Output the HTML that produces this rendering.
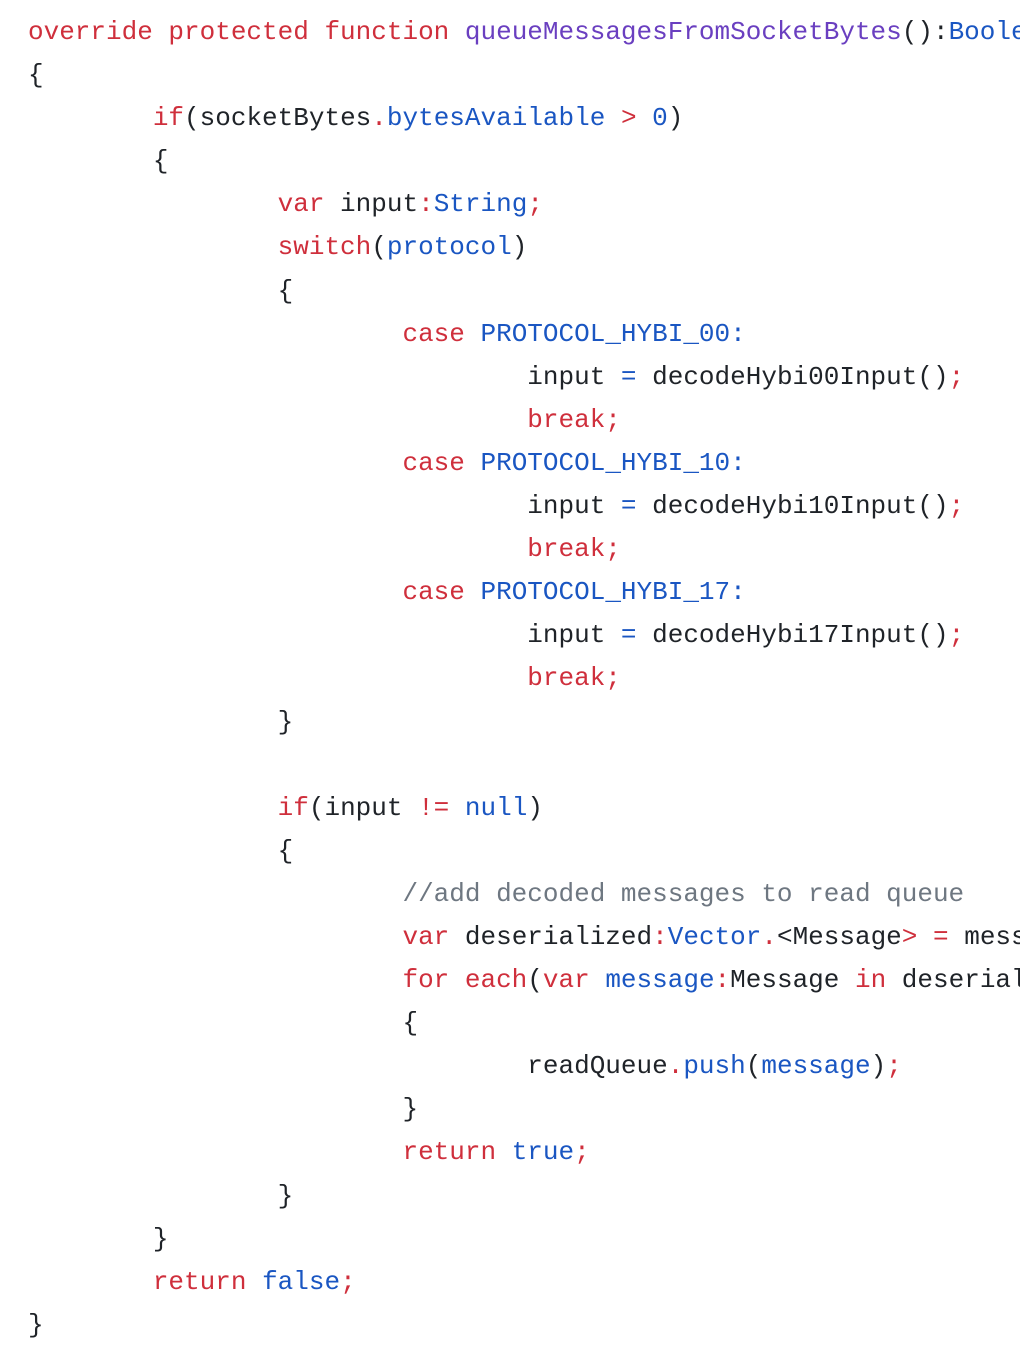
<!DOCTYPE html>
<html><head><meta charset="utf-8"><style>
html,body{margin:0;padding:0;background:#fff;width:1020px;height:1360px;overflow:hidden}
pre{margin:0;padding:11px 0 0 28px;font-family:"Liberation Mono",monospace;font-size:26px;line-height:43.1px;color:#1f2328;white-space:pre;overflow:hidden;width:992px}
.k{color:#cf2f3c}.b{color:#1a56c2}.p{color:#6a3fc0}.c{color:#6e7781}
</style></head><body><pre><span class="k">override protected function</span> <span class="p">queueMessagesFromSocketBytes</span>():<span class="b">Boolean</span>
{
        <span class="k">if</span>(socketBytes<span class="k">.</span><span class="b">bytesAvailable</span> <span class="k">&gt;</span> <span class="b">0</span>)
        {
                <span class="k">var</span> input<span class="k">:</span><span class="b">String</span><span class="k">;</span>
                <span class="k">switch</span>(<span class="b">protocol</span>)
                {
                        <span class="k">case</span> <span class="b">PROTOCOL_HYBI_00:</span>
                                input <span class="b">=</span> decodeHybi00Input()<span class="k">;</span>
                                <span class="k">break;</span>
                        <span class="k">case</span> <span class="b">PROTOCOL_HYBI_10:</span>
                                input <span class="b">=</span> decodeHybi10Input()<span class="k">;</span>
                                <span class="k">break;</span>
                        <span class="k">case</span> <span class="b">PROTOCOL_HYBI_17:</span>
                                input <span class="b">=</span> decodeHybi17Input()<span class="k">;</span>
                                <span class="k">break;</span>
                }

                <span class="k">if</span>(input <span class="k">!=</span> <span class="b">null</span>)
                {
                        <span class="c">//add decoded messages to read queue</span>
                        <span class="k">var</span> deserialized<span class="k">:</span><span class="b">Vector</span><span class="k">.</span>&lt;Message<span class="k">&gt;</span> <span class="k">=</span> messages
                        <span class="k">for each</span>(<span class="k">var</span> <span class="b">message</span><span class="k">:</span>Message <span class="k">in</span> deserialized
                        {
                                readQueue<span class="k">.</span><span class="b">push</span>(<span class="b">message</span>)<span class="k">;</span>
                        }
                        <span class="k">return</span> <span class="b">true</span><span class="k">;</span>
                }
        }
        <span class="k">return</span> <span class="b">false</span><span class="k">;</span>
}</pre></body></html>
